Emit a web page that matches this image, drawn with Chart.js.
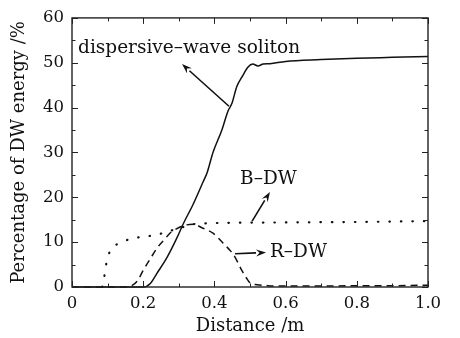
<!DOCTYPE html>
<html><head><meta charset="utf-8">
<script src="https://cdn.jsdelivr.net/npm/chart.js@4"></script>
<style>html,body{margin:0;padding:0;background:#fff}#wrap{width:460px;height:338px}</style>
</head><body><div id="wrap"><canvas id="c" width="460" height="338"></canvas></div>
<script>
// Data
const solitonX = [0,0.2,0.22,0.239,0.267,0.295,0.312,0.34,0.368,0.38,0.396,0.421,0.438,0.449,0.463,0.478,0.494,0.508,0.522,0.537,0.556,0.6,0.7,0.8,0.9,1.0];
const solitonY = [0,0,0.8,3.1,6.6,11,14,18.4,23.4,25.6,30,35,39.2,40.9,44.7,46.9,49,49.7,49.3,49.7,49.8,50.3,50.7,51.0,51.2,51.4];
const rdwX = [0,0.15,0.17,0.185,0.2,0.22,0.24,0.26,0.275,0.29,0.31,0.34,0.368,0.396,0.41,0.424,0.44,0.452,0.465,0.477,0.49,0.5,0.52,0.55,0.6,0.7,0.8,0.9,1.0];
const rdwY = [0,0,0.4,1.5,3.7,6.3,8.8,10.6,12,12.8,13.6,14,13.1,12,11,9.8,8.5,7.4,5.6,3.7,2,0.9,0.5,0.3,0.2,0.2,0.3,0.3,0.4];
const bdwX = [0.085,0.09,0.098,0.107,0.12,0.135,0.163,0.19,0.22,0.25,0.275,0.31,0.34,0.38,0.435,0.6,0.8,1.0];
const bdwY = [0,2,5.9,8,9.2,9.8,10.7,11.1,11.4,11.9,12.5,13.3,14,14.2,14.3,14.4,14.5,14.7];
const xTicks = [0,0.2,0.4,0.6,0.8,1.0];
const yTicks = [0,10,20,30,40,50,60];
const labelTexts = ['dispersive\u2013wave soliton','B\u2013DW','R\u2013DW'];
const labelX = [0.017,0.472,0.556];
const labelY = [53.2,24.1,7.7];
const arrowFromX = [0.441,0.506,0.458];
const arrowFromY = [40.3,14.7,7.4];
const arrowToX = [0.309,0.556,0.545];
const arrowToY = [49.7,21.2,7.7];

const FONT = "'DejaVu Serif', serif";
const pts = (xs, ys) => xs.map((x, i) => ({x, y: ys[i]}));

const decor = {
  id: 'decor',
  afterDatasetsDraw(chart) {
    const {ctx, chartArea: a, scales: {x, y}} = chart;
    ctx.save();
    ctx.strokeStyle = '#222'; ctx.lineWidth = 1.4;
    ctx.strokeRect(a.left, a.top, a.right - a.left, a.bottom - a.top);
    ctx.lineWidth = 1;
    for (let v = 0; v <= 1.0001; v += 0.1) {
      const px = Math.round(x.getPixelForValue(v)) + 0.5;
      const major = Math.abs(v / 0.2 - Math.round(v / 0.2)) < 1e-6;
      const L = major ? 6 : 3.5;
      ctx.beginPath(); ctx.moveTo(px, a.bottom); ctx.lineTo(px, a.bottom - L);
      ctx.moveTo(px, a.top); ctx.lineTo(px, a.top + L); ctx.stroke();
    }
    for (let v = 0; v <= 60; v += 5) {
      const py = Math.round(y.getPixelForValue(v)) + 0.5;
      const L = v % 10 === 0 ? 6 : 3.5;
      ctx.beginPath(); ctx.moveTo(a.left, py); ctx.lineTo(a.left + L, py);
      ctx.moveTo(a.right, py); ctx.lineTo(a.right - L, py); ctx.stroke();
    }
    // labels
    ctx.fillStyle = '#111';
    ctx.font = '18.5px ' + FONT;
    ctx.textBaseline = 'middle'; ctx.textAlign = 'left';
    labelTexts.forEach((t, i) => ctx.fillText(t, x.getPixelForValue(labelX[i]), y.getPixelForValue(labelY[i])));
    // arrows
    ctx.lineWidth = 1.6; ctx.strokeStyle = '#111';
    arrowFromX.forEach((fx, i) => {
      const x1 = x.getPixelForValue(fx), y1 = y.getPixelForValue(arrowFromY[i]);
      const x2 = x.getPixelForValue(arrowToX[i]), y2 = y.getPixelForValue(arrowToY[i]);
      const ang = Math.atan2(y2 - y1, x2 - x1);
      const hl = 10, hw = 3.5;
      const bx = x2 - hl * Math.cos(ang), by = y2 - hl * Math.sin(ang);
      ctx.beginPath(); ctx.moveTo(x1, y1); ctx.lineTo(bx, by); ctx.stroke();
      ctx.beginPath(); ctx.moveTo(x2, y2);
      ctx.lineTo(bx + hw * Math.sin(ang), by - hw * Math.cos(ang));
      ctx.lineTo(bx + 0.35 * hl * Math.cos(ang), by + 0.35 * hl * Math.sin(ang));
      ctx.lineTo(bx - hw * Math.sin(ang), by + hw * Math.cos(ang));
      ctx.closePath(); ctx.fill();
    });
    ctx.restore();
  }
};

new Chart(document.getElementById('c'), {
  type: 'line',
  data: {
    datasets: [
      {data: pts(solitonX, solitonY), borderColor: '#111', borderWidth: 1.5, pointRadius: 0, cubicInterpolationMode: 'monotone', fill: false},
      {data: pts(rdwX, rdwY), borderColor: '#111', borderWidth: 1.5, borderDash: [7, 5], pointRadius: 0, cubicInterpolationMode: 'monotone', fill: false},
      {data: pts(bdwX, bdwY), borderColor: '#111', borderWidth: 2.2, borderDash: [0.5, 11], borderCapStyle: 'round', pointRadius: 0, cubicInterpolationMode: 'monotone', fill: false}
    ]
  },
  options: {
    responsive: false, animation: false, clip: false,
    layout: {padding: {top: 13, right: 32, left: 0, bottom: 0}},
    plugins: {legend: {display: false}, tooltip: {enabled: false}},
    scales: {
      x: {
        type: 'linear', min: 0, max: 1,
        afterBuildTicks: s => { s.ticks = xTicks.map(v => ({value: v})); },
        afterFit: s => { s.height = 51; },
        grid: {display: false, drawTicks: false},
        border: {display: false},
        ticks: {color: '#111', padding: 7, font: {family: FONT, size: 16.5},
          callback: v => v === 0 ? '0' : v.toFixed(1), maxRotation: 0},
        title: {display: true, text: 'Distance /m', color: '#111', font: {family: FONT, size: 18}, padding: {top: 0, bottom: 1}}
      },
      y: {
        min: 0, max: 60,
        afterBuildTicks: s => { s.ticks = yTicks.map(v => ({value: v})); },
        afterFit: s => { s.width = 72; },
        grid: {display: false, drawTicks: false},
        border: {display: false},
        ticks: {color: '#111', padding: 8, font: {family: FONT, size: 16.5}},
        title: {display: true, text: 'Percentage of DW energy /%', color: '#111', font: {family: FONT, size: 18}, padding: {top: 9, bottom: 0}}
      }
    }
  },
  plugins: [decor]
});
</script></body></html>
